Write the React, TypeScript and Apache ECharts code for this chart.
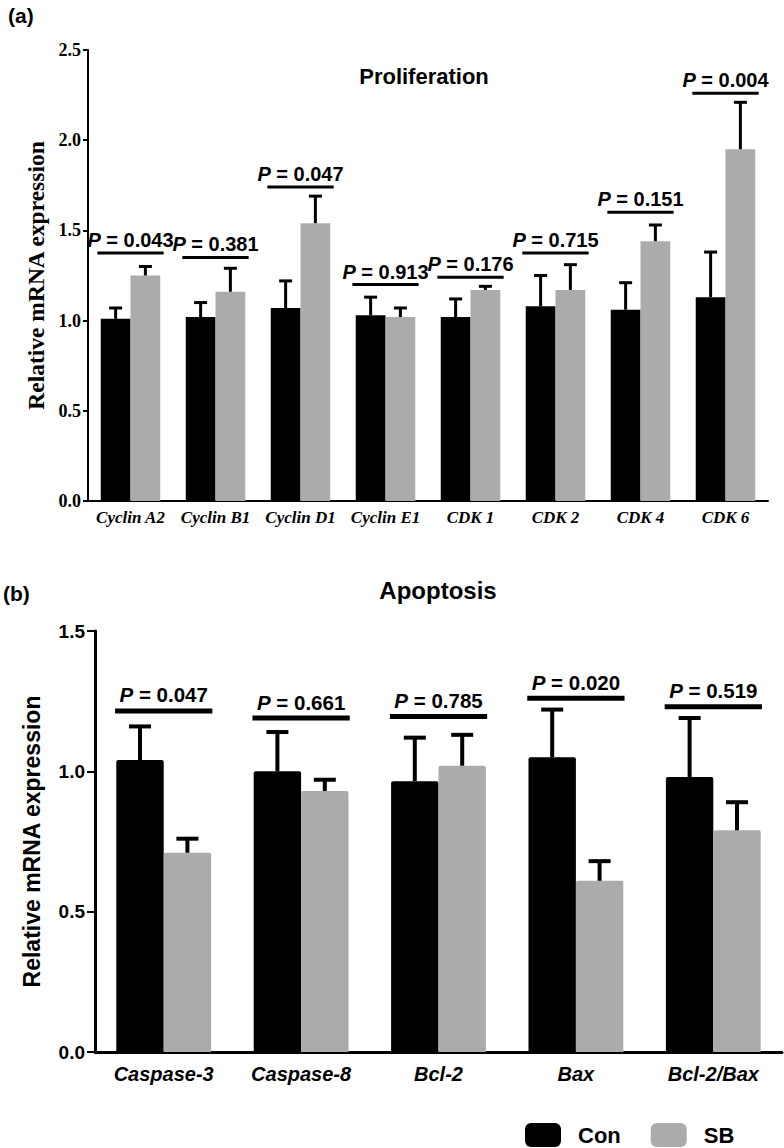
import React, { useEffect, useRef } from 'react';
import * as echarts from 'echarts';

// ---------- (a) Proliferation ----------
const proCategories = ['Cyclin A2', 'Cyclin B1', 'Cyclin D1', 'Cyclin E1', 'CDK 1', 'CDK 2', 'CDK 4', 'CDK 6'];
const proCon = [1.01, 1.02, 1.07, 1.03, 1.02, 1.08, 1.06, 1.13];
const proConSD = [0.06, 0.08, 0.15, 0.10, 0.10, 0.17, 0.15, 0.25];
const proSB = [1.25, 1.16, 1.54, 1.02, 1.17, 1.17, 1.44, 1.95];
const proSBSD = [0.05, 0.13, 0.15, 0.05, 0.02, 0.14, 0.09, 0.26];
const proP = ['0.043', '0.381', '0.047', '0.913', '0.176', '0.715', '0.151', '0.004'];
const proPLevel = [1.375, 1.35, 1.74, 1.2, 1.24, 1.375, 1.6, 2.26];

// ---------- (b) Apoptosis ----------
const apoCategories = ['Caspase-3', 'Caspase-8', 'Bcl-2', 'Bax', 'Bcl-2/Bax'];
const apoCon = [1.04, 1.0, 0.965, 1.05, 0.98];
const apoConSD = [0.12, 0.14, 0.155, 0.17, 0.21];
const apoSB = [0.71, 0.93, 1.02, 0.61, 0.79];
const apoSBSD = [0.05, 0.04, 0.11, 0.07, 0.10];
const apoP = ['0.047', '0.661', '0.785', '0.020', '0.519'];
const apoPLevel = [1.215, 1.19, 1.195, 1.26, 1.23];

const legendNames = ['Con', 'SB'];
const BLACK = '#000000';
const GRAY = '#ababab';
const SERIF = 'Liberation Serif';
const SANS = 'Liberation Sans';

function errorRenderer(side: number, frac: number, capW: number, lw: number) {
  return (params: any, api: any) => {
    const idx = api.value(0);
    const mean = api.value(1);
    const sd = api.value(2);
    const catW = api.size([1, 0])[0];
    const c = api.coord([idx, mean]);
    const t = api.coord([idx, mean + sd]);
    const x = c[0] + (side * catW * frac) / 2;
    return {
      type: 'group',
      children: [
        { type: 'line', shape: { x1: x, y1: c[1], x2: x, y2: t[1] }, style: { stroke: '#000', lineWidth: lw } },
        { type: 'line', shape: { x1: x - capW / 2, y1: t[1], x2: x + capW / 2, y2: t[1] }, style: { stroke: '#000', lineWidth: lw } },
      ],
    };
  };
}

function sigRenderer(labels: string[], halfFrac: number, lw: number, fontSize: number, gap: number) {
  return (params: any, api: any) => {
    const idx = api.value(0);
    const lvl = api.value(1);
    const catW = api.size([1, 0])[0];
    const p = api.coord([idx, lvl]);
    const hw = catW * halfFrac;
    return {
      type: 'group',
      children: [
        { type: 'line', shape: { x1: p[0] - hw, y1: p[1], x2: p[0] + hw, y2: p[1] }, style: { stroke: '#000', lineWidth: lw } },
        {
          type: 'text',
          x: p[0],
          y: p[1] - gap,
          style: {
            text: '{i|P} = ' + labels[params.dataIndex],
            fill: '#000',
            fontSize,
            fontWeight: 'bold',
            fontFamily: SANS,
            align: 'center',
            verticalAlign: 'bottom',
            rich: { i: { fontStyle: 'italic', fontWeight: 'bold', fontSize, fontFamily: SANS, fill: '#000' } },
          },
        },
      ],
    };
  };
}

export default function App() {
  const ref = useRef<HTMLDivElement>(null);
  useEffect(() => {
    if (!ref.current) return;
    const chart = echarts.init(ref.current, undefined, { renderer: 'svg' });
    const barFracTop = 0.35;
    const barFracBot = 0.345;
    const option: any = {
      animation: false,
      backgroundColor: '#ffffff',
      legend: {
        data: legendNames,
        left: 525,
        top: 1123,
        padding: 0,
        itemWidth: 36,
        itemHeight: 24,
        itemGap: 30,
        icon: 'roundRect',
        textStyle: { fontSize: 22, fontWeight: 'bold', fontFamily: SANS, color: '#000', padding: [0, 0, 0, 12] },
      },
      graphic: [
        { type: 'text', x: 8, y: 5, style: { text: '(a)', fontSize: 21, fontWeight: 'bold', fontFamily: SANS, fill: '#000' } },
        { type: 'text', x: 3, y: 583, style: { text: '(b)', fontSize: 21, fontWeight: 'bold', fontFamily: SANS, fill: '#000' } },
        { type: 'text', x: 424, y: 76, style: { text: 'Proliferation', fontSize: 22, fontWeight: 'bold', fontFamily: SANS, fill: '#000', textAlign: 'center', textVerticalAlign: 'middle' } },
        { type: 'text', x: 438, y: 590, style: { text: 'Apoptosis', fontSize: 24, fontWeight: 'bold', fontFamily: SANS, fill: '#000', textAlign: 'center', textVerticalAlign: 'middle' } },
      ],
      grid: [
        { left: 88, top: 50, width: 680, height: 451 },
        { left: 95, top: 631, width: 687, height: 421 },
      ],
      xAxis: [
        {
          type: 'category',
          gridIndex: 0,
          data: proCategories,
          axisLine: { lineStyle: { color: '#000', width: 2 } },
          axisTick: { alignWithLabel: true, length: 6, lineStyle: { color: '#000', width: 2 } },
          axisLabel: { color: '#000', fontFamily: SERIF, fontWeight: 'bold', fontStyle: 'italic', fontSize: 17, margin: 8, interval: 0 },
        },
        {
          type: 'category',
          gridIndex: 1,
          data: apoCategories,
          axisLine: { lineStyle: { color: '#000', width: 3 } },
          axisTick: { alignWithLabel: true, length: 9, lineStyle: { color: '#000', width: 2 } },
          axisLabel: { color: '#000', fontFamily: SANS, fontWeight: 'bold', fontStyle: 'italic', fontSize: 20, margin: 12, interval: 0 },
        },
      ],
      yAxis: [
        {
          type: 'value',
          gridIndex: 0,
          min: 0,
          max: 2.5,
          interval: 0.5,
          name: 'Relative mRNA expression',
          nameLocation: 'middle',
          nameGap: 38,
          nameRotate: 90,
          nameTextStyle: { color: '#000', fontFamily: SERIF, fontWeight: 'bold', fontSize: 23.5 },
          axisLine: { show: true, lineStyle: { color: '#000', width: 2 } },
          axisTick: { show: true, length: 5, lineStyle: { color: '#000', width: 2 } },
          splitLine: { show: false },
          axisLabel: { color: '#000', fontFamily: SERIF, fontWeight: 'bold', fontSize: 18, margin: 7, formatter: (v: number) => v.toFixed(1) },
        },
        {
          type: 'value',
          gridIndex: 1,
          min: 0,
          max: 1.5,
          interval: 0.5,
          name: 'Relative mRNA expression',
          nameLocation: 'middle',
          nameGap: 52,
          nameRotate: 90,
          nameTextStyle: { color: '#000', fontFamily: SANS, fontWeight: 'bold', fontSize: 23 },
          axisLine: { show: true, lineStyle: { color: '#000', width: 3 } },
          axisTick: { show: true, length: 8, lineStyle: { color: '#000', width: 2 } },
          splitLine: { show: false },
          axisLabel: { color: '#000', fontFamily: SANS, fontWeight: 'bold', fontSize: 19, margin: 10, formatter: (v: number) => v.toFixed(1) },
        },
      ],
      series: [
        { name: 'Con', type: 'bar', xAxisIndex: 0, yAxisIndex: 0, data: proCon, barWidth: '35%', barGap: '0%', itemStyle: { color: BLACK } },
        { name: 'SB', type: 'bar', xAxisIndex: 0, yAxisIndex: 0, data: proSB, barWidth: '35%', barGap: '0%', itemStyle: { color: GRAY } },
        { name: 'Con', type: 'bar', xAxisIndex: 1, yAxisIndex: 1, data: apoCon, barWidth: '34.5%', barGap: '0%', itemStyle: { color: BLACK, borderRadius: [2, 2, 0, 0] } },
        { name: 'SB', type: 'bar', xAxisIndex: 1, yAxisIndex: 1, data: apoSB, barWidth: '34.5%', barGap: '0%', itemStyle: { color: GRAY, borderRadius: [2, 2, 0, 0] } },
        {
          type: 'custom', xAxisIndex: 0, yAxisIndex: 0, z: 5,
          renderItem: errorRenderer(-1, barFracTop, 13, 3),
          data: proCon.map((v, i) => [i, v, proConSD[i]]),
        },
        {
          type: 'custom', xAxisIndex: 0, yAxisIndex: 0, z: 5,
          renderItem: errorRenderer(1, barFracTop, 13, 3),
          data: proSB.map((v, i) => [i, v, proSBSD[i]]),
        },
        {
          type: 'custom', xAxisIndex: 1, yAxisIndex: 1, z: 5,
          renderItem: errorRenderer(-1, barFracBot, 22, 4),
          data: apoCon.map((v, i) => [i, v, apoConSD[i]]),
        },
        {
          type: 'custom', xAxisIndex: 1, yAxisIndex: 1, z: 5,
          renderItem: errorRenderer(1, barFracBot, 22, 4),
          data: apoSB.map((v, i) => [i, v, apoSBSD[i]]),
        },
        {
          type: 'custom', xAxisIndex: 0, yAxisIndex: 0, z: 5,
          renderItem: sigRenderer(proP, 0.39, 3, 20, 3),
          data: proPLevel.map((v, i) => [i, v]),
        },
        {
          type: 'custom', xAxisIndex: 1, yAxisIndex: 1, z: 5,
          renderItem: sigRenderer(apoP, 0.354, 5, 20.5, 5.5),
          data: apoPLevel.map((v, i) => [i, v]),
        },
      ],
    };
    chart.setOption(option);
    return () => chart.dispose();
  }, []);
  return <div ref={ref} style={{ position: 'fixed', left: 0, top: 0, width: 784, height: 1148 }} />;
}
